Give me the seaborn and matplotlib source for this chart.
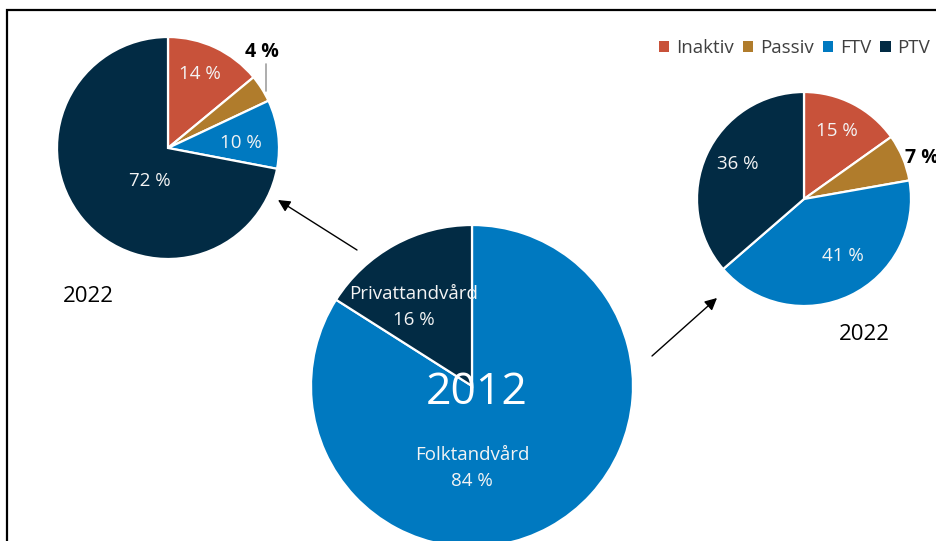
import matplotlib
matplotlib.use("Agg")
import numpy as np
import matplotlib.pyplot as plt
import seaborn as sns
from matplotlib.patches import Patch, Rectangle

# Shares of dental care, 2012 overall and 2022 by patient group
categories = ["Inaktiv", "Passiv", "FTV", "PTV"]
shares_2022_left = [14, 4, 10, 72]
shares_2022_right = [15, 7, 41, 36]
sectors_2012 = ["Folktandvård", "Privattandvård"]
shares_2012 = [84, 16]
year_2012 = "2012"
year_2022 = "2022"

palette = ["#C8523A", "#B07C2C", "#0079C0", "#022B44"]

sns.set_theme(style="white")
plt.rcParams["font.family"] = ["Open Sans", "DejaVu Sans"]

W, H = 936, 541
fig = plt.figure(figsize=(W / 100, H / 100), dpi=100)
ax = fig.add_axes([0, 0, 1, 1])


def P(x, y):
    """Pixel position (origin top-left) to axes data coordinates."""
    return (x, H - y)


wedge_kw = dict(edgecolor="white", linewidth=1.6)
inner = dict(color="#F4F4F4", ha="center", va="center", fontsize=13.5)

# --- 2012: large pie ----------------------------------------------------
c_big, r_big = P(472, 386), 161
ax.pie(shares_2012, colors=[palette[2], palette[3]], startangle=90,
       counterclock=False, center=c_big, radius=r_big,
       wedgeprops=wedge_kw, frame=True)
ax.text(*P(414, 307), f"{sectors_2012[1]}\n{shares_2012[1]} %",
        linespacing=1.55, **inner)
ax.text(*P(472, 468), f"{sectors_2012[0]}\n{shares_2012[0]} %",
        linespacing=1.55, **inner)
ax.text(*P(477, 393), year_2012, color="white", ha="center", va="center",
        fontsize=32)

# --- 2022: upper-left pie -----------------------------------------------
c_l, r_l = P(168, 148), 111
ax.pie(shares_2022_left, colors=palette, startangle=90, counterclock=False,
       center=c_l, radius=r_l, wedgeprops=wedge_kw, frame=True)
for pos, v in zip([(200, 74), None, (241, 143), (150, 181)], shares_2022_left):
    if pos is not None:
        ax.text(*P(*pos), f"{v} %", **inner)
# small slice: label outside with a leader line
cum = np.cumsum([0] + shares_2022_left)
mid = np.deg2rad(90 - 3.6 * (cum[1] + shares_2022_left[1] / 2))
ex = c_l[0] + r_l * np.cos(mid) + 4
ey = c_l[1] + r_l * np.sin(mid) - 2
ax.plot([ex, ex], [ey, ey + 27], color="#A0A0A0", lw=1.2)
ax.text(ex - 4, ey + 29, f"{shares_2022_left[1]} %", ha="center",
        va="bottom", fontsize=14, fontweight="bold", color="black")
ax.text(*P(88, 296), year_2022, ha="center", va="center", fontsize=16,
        color="black")

# --- 2022: right pie ----------------------------------------------------
c_r, r_r = P(804, 199), 107
ax.pie(shares_2022_right, colors=palette, startangle=90, counterclock=False,
       center=c_r, radius=r_r, wedgeprops=wedge_kw, frame=True)
for pos, v in zip([(837, 131), None, (843, 256), (738, 164)], shares_2022_right):
    if pos is not None:
        ax.text(*P(*pos), f"{v} %", **inner)
cum = np.cumsum([0] + shares_2022_right)
mid = np.deg2rad(90 - 3.6 * (cum[1] + shares_2022_right[1] / 2))
ax.text(c_r[0] + r_r * np.cos(mid) + 3, c_r[1] + r_r * np.sin(mid) - 1,
        f"{shares_2022_right[1]} %", ha="left", va="center", fontsize=14,
        fontweight="bold", color="black")
ax.text(*P(864, 334), year_2022, ha="center", va="center", fontsize=16,
        color="black")

# --- arrows from 2012 to 2022 -------------------------------------------
arrow = dict(arrowstyle="-|>", color="black", lw=1.0, mutation_scale=18,
             shrinkA=0, shrinkB=0)
ax.annotate("", xy=P(278, 200), xytext=P(357, 250), arrowprops=arrow)
ax.annotate("", xy=P(717, 298), xytext=P(652, 356), arrowprops=arrow)

# --- legend ---------------------------------------------------------------
handles = [Patch(facecolor=c, edgecolor="none") for c in palette]
ax.legend(handles, categories, ncol=4, loc="center right",
          bbox_to_anchor=((W - 6) / W, 1 - 48 / H), frameon=False,
          fontsize=13.5, labelcolor="#404040", handlelength=0.55,
          handleheight=0.55, handletextpad=0.35, columnspacing=0.5,
          borderpad=0, borderaxespad=0)

ax.set_xlim(0, W)
ax.set_ylim(0, H)
ax.set_aspect("equal")
ax.axis("off")

# outer frame (top and left edges visible, rest runs off the canvas)
fig.add_artist(Rectangle((7 / W, -0.2), 1.2, 1.2 - 10 / H,
                         transform=fig.transFigure, fill=False,
                         edgecolor="black", lw=1.6))

fig.savefig("out.png", dpi=100, facecolor="white")
